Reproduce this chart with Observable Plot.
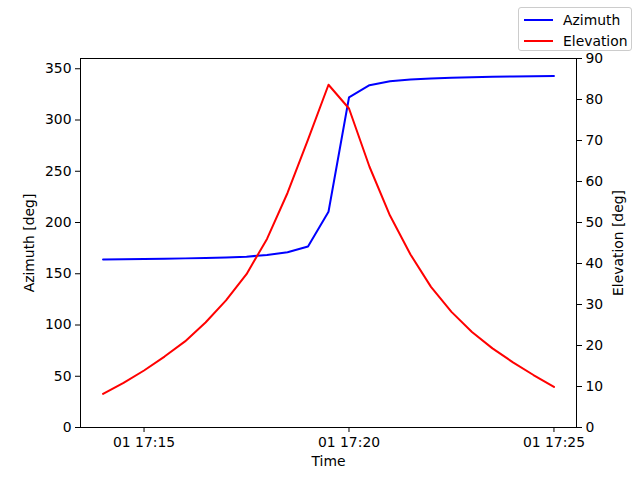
<!DOCTYPE html>
<html>
<head>
<meta charset="utf-8">
<script src="https://cdn.jsdelivr.net/npm/d3@7"></script>
<script src="https://cdn.jsdelivr.net/npm/@observablehq/plot@0.6"></script>
<style>
  html, body { margin: 0; padding: 0; background: #fff; }
  #wrap { position: relative; width: 640px; height: 480px; font-family: "DejaVu Sans", sans-serif; }
  #legend {
    position: absolute; left: 518px; top: 7px; width: 114px; height: 44px;
    border: 1px solid #cccccc; border-radius: 3px; background: rgba(255,255,255,0.8);
    font-size: 13.9px; color: #000; box-sizing: border-box;
  }
  .row { position: absolute; left: 0; height: 20px; display: flex; align-items: center; }
  .sw { position: absolute; left: 5px; width: 29px; height: 2px; }
  .lab { position: absolute; left: 44px; white-space: nowrap; line-height: 16px; }
</style>
</head>
<body>
<div id="wrap">
  <div id="chart"></div>
  <div id="legend"></div>
</div>
<script>
// Sample times (UTC), every 30 s from 17:14:00 to 17:25:00
const timeLabels = [
  "17:14:00","17:14:30","17:15:00","17:15:30","17:16:00","17:16:30","17:17:00","17:17:30",
  "17:18:00","17:18:30","17:19:00","17:19:30","17:20:00","17:20:30","17:21:00","17:21:30",
  "17:22:00","17:22:30","17:23:00","17:23:30","17:24:00","17:24:30","17:25:00"
];
const azimuth = [
  164.0, 164.2, 164.4, 164.7, 165.0, 165.4, 165.9, 166.7,
  168.3, 171.0, 176.5, 210.5, 322.0, 334.0, 337.8, 339.6,
  340.6, 341.3, 341.8, 342.2, 342.5, 342.8, 343.0
];
const elevation = [
  8.2, 10.9, 13.9, 17.3, 21.0, 25.6, 31.0, 37.4,
  46.0, 57.2, 70.2, 83.6, 77.8, 63.6, 51.7, 42.2,
  34.3, 28.2, 23.3, 19.3, 15.9, 12.8, 9.9
];
const xTicks = ["17:15:00", "17:20:00", "17:25:00"];
const azTicks = [0, 50, 100, 150, 200, 250, 300, 350];
const elTicks = [0, 10, 20, 30, 40, 50, 60, 70, 80, 90];
const seriesNames = ["Azimuth", "Elevation"];
const seriesColors = ["#0000ff", "#ff0000"];

const day = "2000-01-01T";
const toDate = s => new Date(day + s + "Z");
const rows = timeLabels.map((t, i) => ({ time: toDate(t), az: azimuth[i], el: elevation[i] }));

const azMax = 360, elMax = 90, k = azMax / elMax;
const t0 = rows[0].time, t1 = rows[rows.length - 1].time;
const pad = (t1 - t0) * 0.05;
const fmt = d3.utcFormat("%d %H:%M");
const font = "DejaVu Sans, sans-serif";

const chart = Plot.plot({
  width: 640, height: 480,
  marginLeft: 80, marginRight: 64, marginTop: 58, marginBottom: 53,
  style: { fontFamily: font, fontSize: "13.9px", color: "#000", background: "#fff", overflow: "visible" },
  x: { type: "utc", domain: [new Date(+t0 - pad), new Date(+t1 + pad)] },
  y: { domain: [0, azMax] },
  marks: [
    Plot.axisX({ ticks: xTicks.map(toDate), tickFormat: fmt, tickSize: 5, tickPadding: 5,
                 label: "Time", labelAnchor: "center", labelArrow: "none", labelOffset: 38, fontSize: 13.9 }),
    Plot.axisY({ ticks: azTicks, tickSize: 5, tickPadding: 4, anchor: "left",
                 label: "Azimuth [deg]", labelAnchor: "center", labelArrow: "none", labelOffset: 56, fontSize: 13.9 }),
    Plot.axisY({ ticks: elTicks.map(v => v * k), tickFormat: v => String(Math.round(v / k)), tickSize: 5, tickPadding: 4,
                 anchor: "right", label: "Elevation [deg]", labelAnchor: "center", labelArrow: "none", labelOffset: 46, fontSize: 13.9 }),
    Plot.lineY(rows, { x: "time", y: "az", stroke: seriesColors[0], strokeWidth: 2 }),
    Plot.lineY(rows, { x: "time", y: d => d.el * k, stroke: seriesColors[1], strokeWidth: 2 }),
    Plot.frame({ stroke: "#000", strokeWidth: 1 })
  ]
});
document.getElementById("chart").appendChild(chart);

const legend = document.getElementById("legend");
seriesNames.forEach((name, i) => {
  const row = document.createElement("div");
  row.className = "row";
  row.style.top = (i * 21 + 2) + "px";
  row.style.width = "100%";
  const sw = document.createElement("div");
  sw.className = "sw";
  sw.style.background = seriesColors[i];
  const lab = document.createElement("div");
  lab.className = "lab";
  lab.textContent = name;
  row.appendChild(sw);
  row.appendChild(lab);
  legend.appendChild(row);
});
</script>
</body>
</html>
